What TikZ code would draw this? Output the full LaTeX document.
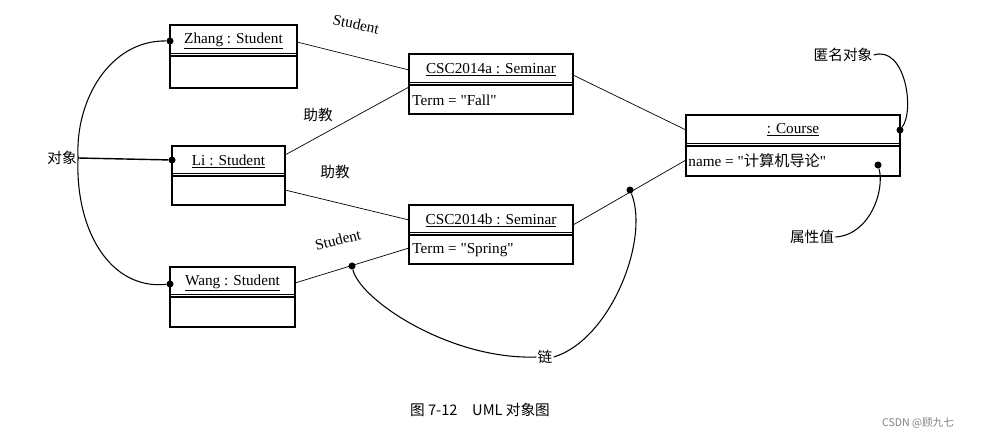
\documentclass[tikz,border=0pt]{standalone}
\usepackage{fontspec}
\setmainfont{Liberation Serif}
\newfontfamily\cjk{Noto Sans CJK SC}
\begin{document}
\begin{tikzpicture}[x=0.03cm,y=-0.03cm,
  box/.style={draw,line width=0.9pt},
  t/.style={font=\fontsize{13}{15}\selectfont,inner sep=1pt},
  c/.style={font=\cjk\fontsize{12.5}{15}\selectfont,inner sep=1pt},
  dot/.style={circle,fill,inner sep=0pt,minimum size=6pt},
  ln/.style={line width=0.6pt}]
\useasboundingbox (0,0) rectangle (982,441);
% boxes
\foreach \n/\xa/\ya/\xb/\ym/\yb in {zh/170/25/297/56/88, sa/409/54/573/85/114, li/172/146/285/176/205, sb/409/205/573/235/264, wa/170/267/295/297/327, co/686/115/900/146/176}{
  \draw[box] (\xa,\ya) rectangle (\xb,\yb);
  \draw[box] (\xa,\ym) -- (\xb,\ym);
  \draw[ln] (\xa,\ym-2.5) -- (\xb,\ym-2.5);
}
\node[t] (zhn) at (233.5,41) {\underline{Zhang : Student}};
\node[t] (san) at (491,70) {\underline{CSC2014a : Seminar}};
\node[t,anchor=west] (sat) at (411,100) {Term = \textquotedbl Fall\textquotedbl};
\node[t] (lin) at (228.5,161) {\underline{Li : Student}};
\node[t] (sbn) at (491,220) {\underline{CSC2014b : Seminar}};
\node[t,anchor=west] (sbt) at (411,250) {Term = \textquotedbl Spring\textquotedbl};
\node[t] (wan) at (232.5,283) {\underline{Wang : Student}};
\node[t] (con) at (793,130) {\underline{: Course}};
\node[t,anchor=west] (cot) at (687,161) {name = \textquotedbl{\cjk 计算机导论}\textquotedbl};
% coordinates
\coordinate (zr) at (297,42); \coordinate (al) at (409,70);
\coordinate (lr1) at (285,155); \coordinate (al2) at (409,87);
\coordinate (lr2) at (285,190); \coordinate (bl) at (409,220);
\coordinate (wr) at (295,283); \coordinate (bl2) at (409,248);
\coordinate (ar) at (573,75); \coordinate (cl1) at (686,130);
\coordinate (br) at (573,225); \coordinate (cl2) at (686,160);
\draw[ln] (zr) -- (al);
\draw[ln] (lr1) -- (al2);
\draw[ln] (lr2) -- (bl);
\draw[ln] (wr) -- (bl2);
\draw[ln] (ar) -- (cl1);
\draw[ln] (br) -- (cl2);
\node[t,rotate=-12] (l1) at (356,24) {Student};
\node[c] (l2) at (318,115) {助教};
\node[c] (l3) at (335,172) {助教};
\node[t,rotate=14] (l4) at (338,240) {Student};
% annotations
\node[c] (obj) at (62,158) {对象};
\node[dot] (d1) at (170,41) {};
\node[dot] (d2) at (172,160) {};
\node[dot] (d3) at (170,284) {};
\draw[line width=0.9pt] (obj.east) .. controls (75,100) and (110,40) .. (d1);
\draw[line width=1.2pt] (obj.east) -- (d2);
\draw[line width=0.9pt] (obj.east) .. controls (75,230) and (110,290) .. (d3);
\node[c] (anon) at (843,55) {匿名对象};
\node[dot] (d4) at (900,130) {};
\draw[line width=0.9pt] (anon.east) .. controls (905,45) and (915,110) .. (d4);
\node[c] (attr) at (812,237) {属性值};
\node[dot] (d5) at (878,165) {};
\draw[line width=0.9pt] (attr.east) .. controls (870,235) and (885,190) .. (d5);
\node[c] (chain) at (545,357) {链};
\node[dot] (d6) at (352,266) {};
\node[dot] (d7) at (630,190) {};
\draw[line width=0.9pt] (chain.west) .. controls (450,360) and (360,300) .. (d6);
\draw[line width=0.9pt] (chain.east) .. controls (610,340) and (650,240) .. (d7);
% caption
\node[c] (cap) at (480,410) {图 7-12\quad UML 对象图};
\node[c,text=gray,font=\cjk\fontsize{9}{11}\selectfont] (wm) at (918,423) {CSDN @顾九七};
\end{tikzpicture}
\end{document}
